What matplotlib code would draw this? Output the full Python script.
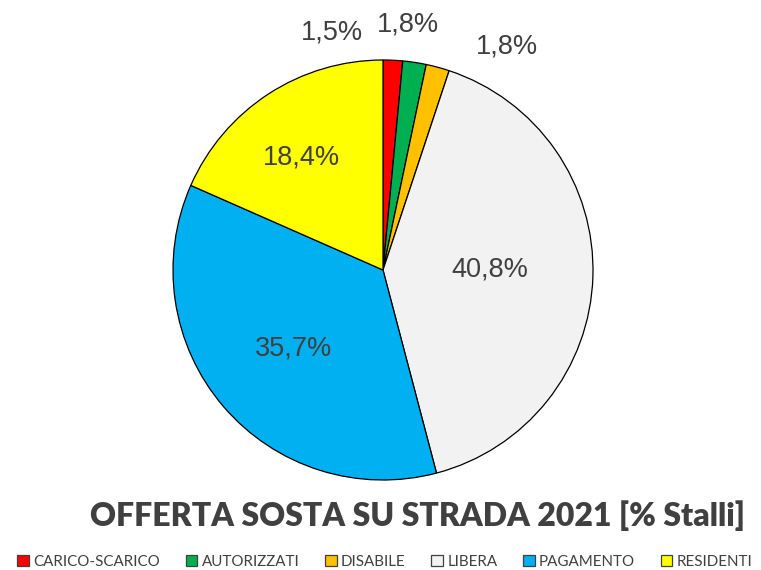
import numpy as np
import matplotlib
matplotlib.use("Agg")
import matplotlib.pyplot as plt
from matplotlib.patches import Patch

categories = ["CARICO-SCARICO", "AUTORIZZATI", "DISABILE", "LIBERA", "PAGAMENTO", "RESIDENTI"]
values = [1.5, 1.8, 1.8, 40.8, 35.7, 18.4]
labels = ["1,5%", "1,8%", "1,8%", "40,8%", "35,7%", "18,4%"]
title = "OFFERTA SOSTA SU STRADA 2021 [% Stalli]"

colors = ["#FF0000", "#00B050", "#FFC000", "#F2F2F2", "#00B0F0", "#FFFF00"]
# label placement: (angle offset in degrees, radial distance as fraction of radius)
label_pos = [(14.8, 1.157), (2.9, 1.177), (-13.9, 1.219), (2.0, 0.51), (0.8, 0.567), (2.8, 0.662)]

W, H = 761, 570
fig = plt.figure(figsize=(W / 100, H / 100), dpi=100)
ax = fig.add_axes([0, 0, 1, 1])

cx, cy, R = 383, H - 270, 210
wedges, _ = ax.pie(values, colors=colors, startangle=90, counterclock=False,
                   center=(cx, cy), radius=R, frame=True,
                   wedgeprops=dict(edgecolor="black", linewidth=0.9))
ax.set_xlim(0, W)
ax.set_ylim(0, H)
ax.set_aspect("equal")
ax.axis("off")

for w, lab, (doff, rf) in zip(wedges, labels, label_pos):
    mid = np.deg2rad((w.theta1 + w.theta2) / 2 + doff)
    x = cx + rf * R * np.cos(mid)
    y = cy + rf * R * np.sin(mid)
    ax.text(x, y, lab, ha="center", va="center", fontsize=19.5,
            family="Liberation Sans", color="#404040")

fig.text(418 / W, 1 - 516 / H, title, ha="center", va="center", fontsize=23,
         fontweight="heavy", family="Lato", color="#404040")

handles = [Patch(facecolor=c, edgecolor="#404040", linewidth=0.9) for c in colors]
leg = fig.legend(handles, categories, loc="center", bbox_to_anchor=(385 / W, 1 - 562 / H),
                 ncol=6, frameon=False, prop=dict(family="Lato", size=10.9),
                 handlelength=0.75, handleheight=0.75, handletextpad=0.3,
                 columnspacing=1.7, labelcolor="#404040")

fig.savefig("out.png", dpi=100)
